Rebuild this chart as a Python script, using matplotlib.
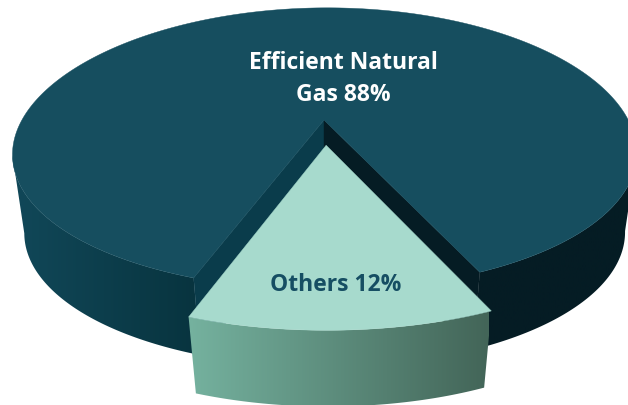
import numpy as np
import matplotlib
matplotlib.use('Agg')
import matplotlib.pyplot as plt
from matplotlib.patches import Polygon
from matplotlib.colors import LinearSegmentedColormap

labels = ["Efficient Natural\nGas", "Others"]
shares = [88, 12]

TOP_COLORS = ["#164e5f", "#a7dacd"]
TEXT_COLORS = ["white", "#164e63"]

# pie plane -> picture pixels, fitted by eye to the tilted view
CX, CY = 324, 120
A, B = 135, 303
K, KX, J, M = 0.205, 0.237, 0.007, 0.037
SHEAR, ROLL = 0.085, -0.02
DEPTH, DEPTH_SLOPE = 81, 4
EXPLODE = 0.18

big_wall = LinearSegmentedColormap.from_list(
    "big", [(0, "#114859"), (0.3, "#08343f"), (0.7, "#051c24"), (1, "#051c24")])
small_wall = LinearSegmentedColormap.from_list("small", ["#75b29f", "#436558"])


def project(phi, r, z=0.0, shift=0.0):
    """phi in radians from the front of the pie, r radius, z 0 top to 1 bottom."""
    u = r * np.sin(phi)
    v = r * np.cos(phi) + shift
    sx = B * u / (1 - KX * v + J * u + M * z)
    plane = A * v / (1 - K * v)
    return CX + sx + SHEAR * plane, CY + plane + z * (DEPTH - DEPTH_SLOPE * v) + ROLL * sx


def draw_outer_wall(ax, phis, shift, cmap, xmin, xmax, zorder):
    # only the arc up to the silhouette, closed by the straight side edge
    tx, ty = project(phis, 1, 0, shift)
    bx, by = project(phis, 1, 1, shift)
    ti = np.argmax(np.abs(tx - CX)) + 1
    bi = np.argmax(np.abs(bx - CX)) + 1
    outline = np.vstack([np.column_stack([tx[:ti], ty[:ti]]),
                         np.column_stack([bx[:bi], by[:bi]])[::-1]])
    shape = Polygon(outline, closed=True, transform=ax.transData, facecolor="none", edgecolor="none")
    ax.add_patch(shape)
    gradient = np.linspace(0, 1, 256)[None, :]
    im = ax.imshow(gradient, extent=[xmin, xmax, 405, 0], cmap=cmap, aspect="auto", zorder=zorder)
    im.set_clip_path(shape)


def draw_inner_wall(ax, phi, color):
    pts = [project(phi, 0, 0), project(phi, 1, 0), project(phi, 1, 1), project(phi, 0, 1)]
    ax.add_patch(Polygon(pts, closed=True, facecolor=color, edgecolor=color, lw=0.3, zorder=2))


half = np.radians(360 * shares[1] / sum(shares) / 2)

fig = plt.figure(figsize=(6.28, 4.05), dpi=100)
ax = fig.add_axes([0, 0, 1, 1])
ax.axis("off")

# big slice
draw_outer_wall(ax, np.linspace(half, np.pi, 200), 0, big_wall, 10, 628, 1)
draw_outer_wall(ax, np.linspace(-half, -np.pi, 200), 0, big_wall, 10, 628, 1)
draw_inner_wall(ax, -half, "#0a3c4b")
draw_inner_wall(ax, half, "#051c24")
big_phis = np.linspace(half, 2 * np.pi - half, 300)
x, y = project(big_phis, 1)
top = [project(0, 0)] + list(zip(x, y))
ax.add_patch(Polygon(top, closed=True, facecolor=TOP_COLORS[0], edgecolor=TOP_COLORS[0], lw=0.3, zorder=3))

# small slice, pulled out to the front
small_phis = np.linspace(-half, half, 60)
draw_outer_wall(ax, small_phis, EXPLODE, small_wall, 188, 489, 4)
x, y = project(small_phis, 1, 0, EXPLODE)
top = [project(0, 0, 0, EXPLODE)] + list(zip(x, y))
ax.add_patch(Polygon(top, closed=True, facecolor=TOP_COLORS[1], edgecolor=TOP_COLORS[1], lw=0.3, zorder=5))

ax.set_xlim(0, 628)
ax.set_ylim(405, 0)

font = dict(family="Open Sans", fontweight="bold", fontsize=16.5, ha="center", va="center",
            linespacing=1.42, zorder=6)
ax.text(343, 79, f"{labels[0]} {shares[0]}%", color=TEXT_COLORS[0], **font)
ax.text(336, 285, f"{labels[1]} {shares[1]}%", color=TEXT_COLORS[1], **font)

plt.savefig("out.png", dpi=100)
plt.close()
